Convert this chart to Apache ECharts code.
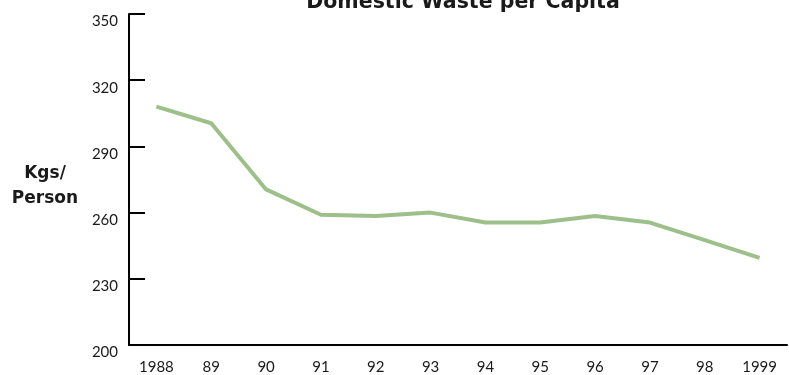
<!DOCTYPE html>
<html>
<head>
<meta charset="utf-8">
<script src="https://cdn.jsdelivr.net/npm/echarts@6/dist/echarts.min.js"></script>
<style>
  html, body { margin: 0; padding: 0; background: #fff; }
  #chart { width: 789px; height: 375px; }
</style>
</head>
<body>
<div id="chart"></div>
<script>
// Years along the bottom axis
const years = ['1988', '89', '90', '91', '92', '93', '94', '95', '96', '97', '98', '1999'];
// Domestic waste, kilograms per person per year
const wastePerCapita = [308, 300.5, 270.5, 259, 258.5, 260, 255.5, 255.5, 258.5, 255.5, 247.5, 239.5];
// Value axis range
const yMin = 200;
const yMax = 350;
const yStep = 30;

const labelFont = 'Lato, "DejaVu Sans", sans-serif';
const headFont = '"DejaVu Sans", Lato, sans-serif';

const chart = echarts.init(document.getElementById('chart'), null, { renderer: 'canvas' });
chart.setOption({
  animation: false,
  backgroundColor: '#ffffff',
  title: {
    text: 'Domestic Waste per Capita',
    left: 458,
    top: -13,
    textAlign: 'center',
    textStyle: { fontFamily: headFont, fontSize: 20.5, fontWeight: 'bold', color: '#1a1a1a' }
  },
  graphic: [
    {
      type: 'text',
      x: 45,
      y: 161,
      style: {
        text: 'Kgs/\nPerson',
        fontFamily: headFont,
        fontSize: 17,
        fontWeight: 'bold',
        fill: '#1a1a1a',
        align: 'center',
        lineHeight: 25
      }
    }
  ],
  grid: { left: 129, right: 2, top: 14, bottom: 29, containLabel: false },
  xAxis: {
    type: 'category',
    data: years,
    boundaryGap: true,
    axisLine: { lineStyle: { color: '#000', width: 2 } },
    axisTick: { inside: true, length: 8, lineStyle: { color: '#000', width: 2 } },
    axisLabel: { margin: 15, fontFamily: labelFont, fontSize: 15, color: '#1a1a1a' },
    splitLine: { show: false }
  },
  yAxis: {
    type: 'value',
    min: yMin,
    max: yMax,
    interval: yStep,
    axisLine: { show: true, lineStyle: { color: '#000', width: 2 } },
    axisTick: { show: true, inside: true, length: 16, lineStyle: { color: '#000', width: 2 } },
    axisLabel: { margin: 11, fontFamily: labelFont, fontSize: 15, color: '#1a1a1a', verticalAlign: 'top' },
    splitLine: { show: false }
  },
  series: [
    {
      type: 'line',
      data: wastePerCapita,
      symbol: 'none',
      lineStyle: { color: '#9dbf8a', width: 4 },
      z: 1
    }
  ]
});
</script>
</body>
</html>
